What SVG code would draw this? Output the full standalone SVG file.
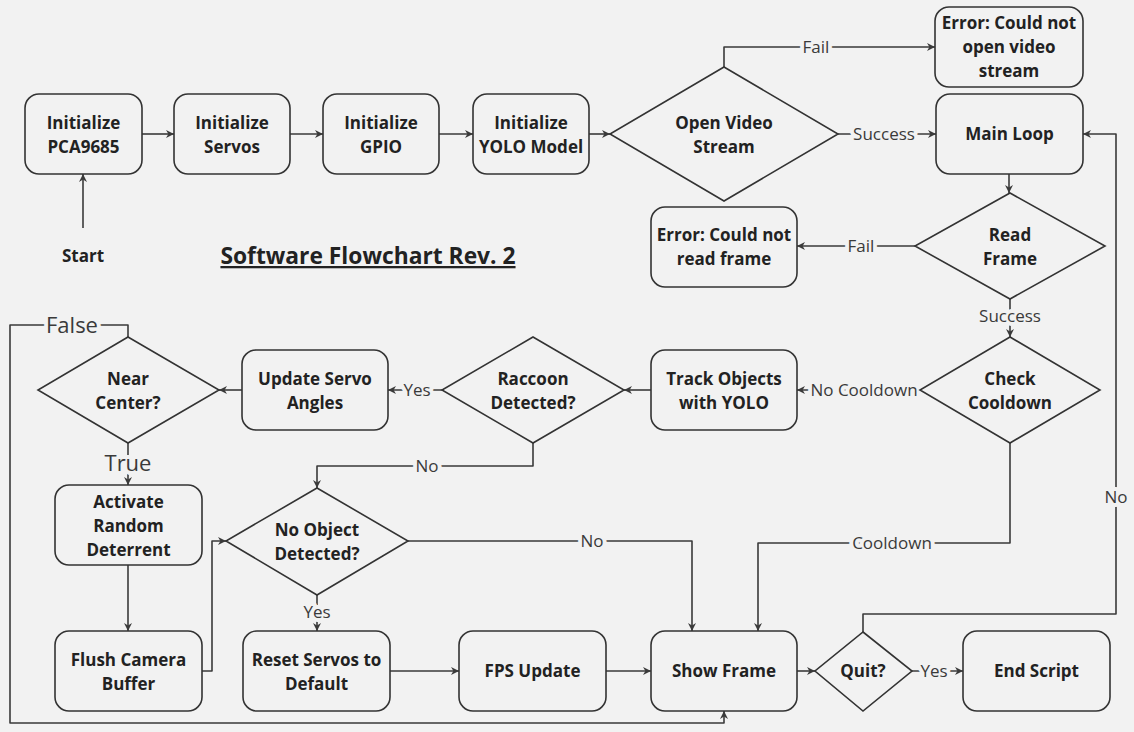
<svg xmlns="http://www.w3.org/2000/svg" width="1134" height="732" viewBox="0 0 1134 732">
<style>
.bg{fill:#f2f2f2}
.box{fill:#f2f2f2;stroke:#333;stroke-width:1.6}
.t{font-family:"Open Sans","Liberation Sans",sans-serif;font-weight:700;font-size:17px;fill:#222;text-anchor:middle}
.c{fill:none;stroke:#3a3a3a;stroke-width:1.6;stroke-linejoin:round}
.l{font-family:"Open Sans","Liberation Sans",sans-serif;font-size:17px;fill:#3a3a3a;text-anchor:middle;stroke:#f2f2f2;stroke-width:8px;paint-order:stroke;stroke-linejoin:round}
.lb{font-size:22px}
.title{font-family:"Open Sans","Liberation Sans",sans-serif;font-weight:700;font-size:22.8px;fill:#222;text-anchor:middle;text-decoration:underline}
</style>
<defs>
<marker id="ah" viewBox="0 0 10 10" refX="10" refY="5" markerWidth="8" markerHeight="8" markerUnits="userSpaceOnUse" orient="auto">
<path d="M0,0 L10,5 L0,10 L3,5 z" fill="#3a3a3a"/>
</marker>
</defs>
<rect class="bg" x="0" y="0" width="1134" height="732"/>

<g id="connectors">
<path class="c" d="M83,228 V174" marker-end="url(#ah)"/>
<path class="c" d="M142,134 H174" marker-end="url(#ah)"/>
<path class="c" d="M290,134 H323" marker-end="url(#ah)"/>
<path class="c" d="M439,134 H473" marker-end="url(#ah)"/>
<path class="c" d="M589,134 H610" marker-end="url(#ah)"/>
<path class="c" d="M724,67 V47 H935" marker-end="url(#ah)"/>
<path class="c" d="M838,134 H936" marker-end="url(#ah)"/>
<path class="c" d="M1009,174 V193" marker-end="url(#ah)"/>
<path class="c" d="M915,246 H797" marker-end="url(#ah)"/>
<path class="c" d="M1010,299 V337" marker-end="url(#ah)"/>
<path class="c" d="M921,390 H797" marker-end="url(#ah)"/>
<path class="c" d="M1010,443 V543 H758 V631" marker-end="url(#ah)"/>
<path class="c" d="M651,390 H624" marker-end="url(#ah)"/>
<path class="c" d="M442,390 H388" marker-end="url(#ah)"/>
<path class="c" d="M242,390 H219" marker-end="url(#ah)"/>
<path class="c" d="M128,443 V485" marker-end="url(#ah)"/>
<path class="c" d="M128,337 V325 H10 V723 H724 V711" marker-end="url(#ah)"/>
<path class="c" d="M533,443 V466 H317 V488" marker-end="url(#ah)"/>
<path class="c" d="M128,565 V631" marker-end="url(#ah)"/>
<path class="c" d="M202,671 H212 V541 H226" marker-end="url(#ah)"/>
<path class="c" d="M408,541 H692 V631" marker-end="url(#ah)"/>
<path class="c" d="M317,595 V631" marker-end="url(#ah)"/>
<path class="c" d="M390,671 H459" marker-end="url(#ah)"/>
<path class="c" d="M606,671 H651" marker-end="url(#ah)"/>
<path class="c" d="M797,671 H815" marker-end="url(#ah)"/>
<path class="c" d="M912,671 H963" marker-end="url(#ah)"/>
<path class="c" d="M863,632 V614 H1116 V134 H1083" marker-end="url(#ah)"/>
<text class="l" x="816" y="53">Fail</text>
<text class="l" x="884" y="140">Success</text>
<text class="l" x="861" y="252">Fail</text>
<text class="l" x="1010" y="322">Success</text>
<text class="l" x="864" y="396">No Cooldown</text>
<text class="l" x="892" y="549">Cooldown</text>
<text class="l" x="1116" y="503">No</text>
<text class="l" x="934" y="677">Yes</text>
<text class="l" x="427" y="472">No</text>
<text class="l" x="417" y="396">Yes</text>
<text class="l" x="592" y="547">No</text>
<text class="l" x="317" y="618">Yes</text>
<text class="l lb" x="72" y="333">False</text>
<text class="l lb" x="128" y="471">True</text>
</g>

<g id="start"><text class="t" x="83" y="262">Start</text></g>
<g id="title"><text class="title" x="368" y="264">Software Flowchart Rev. 2</text></g>

<g id="init-pca"><rect class="box" x="25" y="94" width="117" height="80" rx="14"/><text class="t" x="83.5" y="129">Initialize</text><text class="t" x="83.5" y="153">PCA9685</text></g>
<g id="init-servos"><rect class="box" x="174" y="94" width="116" height="80" rx="14"/><text class="t" x="232" y="129">Initialize</text><text class="t" x="232" y="153">Servos</text></g>
<g id="init-gpio"><rect class="box" x="323" y="94" width="116" height="80" rx="14"/><text class="t" x="381" y="129">Initialize</text><text class="t" x="381" y="153">GPIO</text></g>
<g id="init-yolo"><rect class="box" x="473" y="94" width="116" height="80" rx="14"/><text class="t" x="531" y="129">Initialize</text><text class="t" x="531" y="153">YOLO Model</text></g>
<g id="open-video"><polygon class="box" points="724,67 838,134 724,201 610,134"/><text class="t" x="724" y="129">Open Video</text><text class="t" x="724" y="153">Stream</text></g>
<g id="err-open"><rect class="box" x="935" y="7" width="148" height="80" rx="14"/><text class="t" x="1009" y="29">Error: Could not</text><text class="t" x="1009" y="53">open video</text><text class="t" x="1009" y="77">stream</text></g>
<g id="main-loop"><rect class="box" x="936" y="94" width="147" height="80" rx="14"/><text class="t" x="1009.5" y="140">Main Loop</text></g>
<g id="read-frame"><polygon class="box" points="1010,193 1105,246 1010,299 915,246"/><text class="t" x="1010" y="241">Read</text><text class="t" x="1010" y="265">Frame</text></g>
<g id="err-read"><rect class="box" x="651" y="207" width="146" height="80" rx="14"/><text class="t" x="724" y="241">Error: Could not</text><text class="t" x="724" y="265">read frame</text></g>
<g id="check-cooldown"><polygon class="box" points="1010,337 1100,390 1010,443 920,390"/><text class="t" x="1010" y="385">Check</text><text class="t" x="1010" y="409">Cooldown</text></g>
<g id="track-objects"><rect class="box" x="651" y="350" width="146" height="80" rx="14"/><text class="t" x="724" y="385">Track Objects</text><text class="t" x="724" y="409">with YOLO</text></g>
<g id="raccoon"><polygon class="box" points="533,337 624,390 533,443 442,390"/><text class="t" x="533" y="385">Raccoon</text><text class="t" x="533" y="409">Detected?</text></g>
<g id="update-servo"><rect class="box" x="242" y="350" width="146" height="80" rx="14"/><text class="t" x="315" y="385">Update Servo</text><text class="t" x="315" y="409">Angles</text></g>
<g id="near-center"><polygon class="box" points="128,337 219,390 128,443 38,390"/><text class="t" x="128" y="385">Near</text><text class="t" x="128" y="409">Center?</text></g>
<g id="activate"><rect class="box" x="55" y="485" width="147" height="80" rx="14"/><text class="t" x="128.5" y="507.5">Activate</text><text class="t" x="128.5" y="531.5">Random</text><text class="t" x="128.5" y="555.5">Deterrent</text></g>
<g id="no-object"><polygon class="box" points="317,488 408,541 317,595 226,541"/><text class="t" x="317" y="536">No Object</text><text class="t" x="317" y="560">Detected?</text></g>
<g id="flush"><rect class="box" x="55" y="631" width="147" height="80" rx="14"/><text class="t" x="128.5" y="666">Flush Camera</text><text class="t" x="128.5" y="690">Buffer</text></g>
<g id="reset"><rect class="box" x="243" y="631" width="147" height="80" rx="14"/><text class="t" x="316.5" y="666">Reset Servos to</text><text class="t" x="316.5" y="690">Default</text></g>
<g id="fps"><rect class="box" x="459" y="631" width="147" height="80" rx="14"/><text class="t" x="532.5" y="677">FPS Update</text></g>
<g id="show-frame"><rect class="box" x="651" y="631" width="146" height="80" rx="14"/><text class="t" x="724" y="677">Show Frame</text></g>
<g id="quit"><polygon class="box" points="863,632 912,671 863,711 815,671"/><text class="t" x="863" y="677">Quit?</text></g>
<g id="end-script"><rect class="box" x="963" y="631" width="147" height="80" rx="14"/><text class="t" x="1036.5" y="677">End Script</text></g>
</svg>
